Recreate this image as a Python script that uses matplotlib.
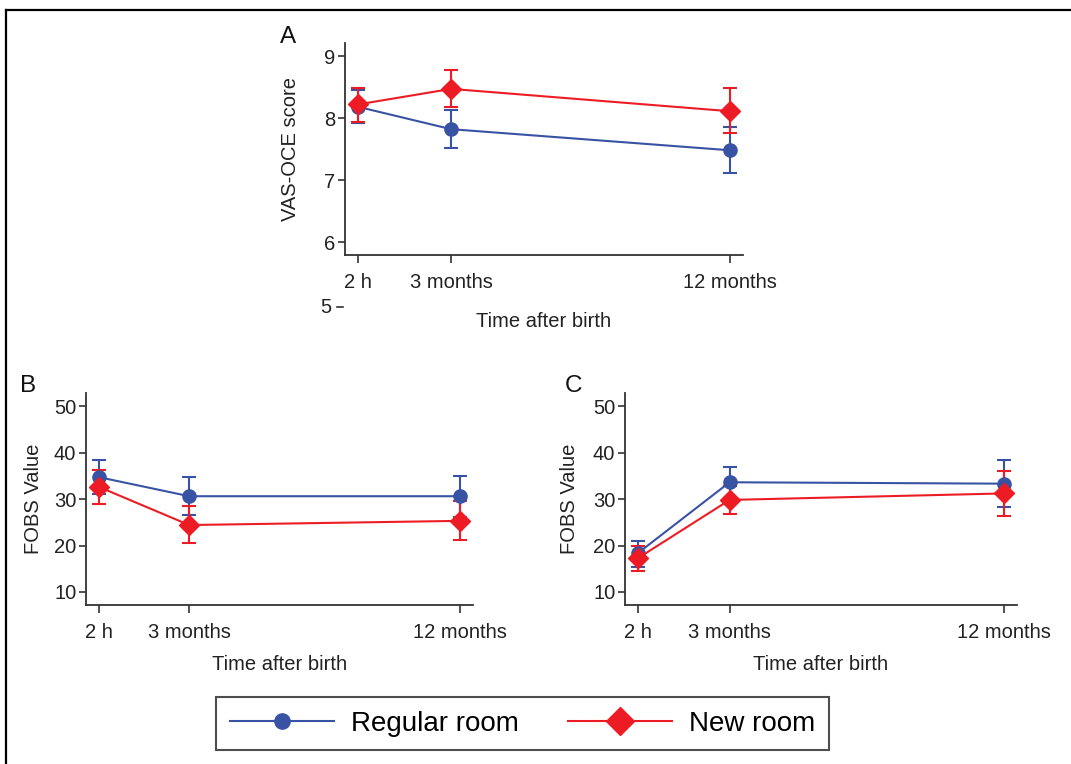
import matplotlib
matplotlib.use('Agg')
import matplotlib.pyplot as plt
from matplotlib.lines import Line2D
import numpy as np

plt.rcParams['font.family'] = ['Liberation Sans', 'DejaVu Sans']

# time points (months after birth)
times = [0, 3, 12]
time_labels = ['2 h', '3 months', '12 months']

# panel A: VAS-OCE score
a_reg = [8.18, 7.82, 7.48]
a_reg_lo = [7.92, 7.52, 7.11]
a_reg_hi = [8.46, 8.13, 7.85]
a_new = [8.22, 8.47, 8.11]
a_new_lo = [7.94, 8.18, 7.76]
a_new_hi = [8.48, 8.77, 8.48]

# panel B: FOBS value
b_reg = [34.7, 30.6, 30.6]
b_reg_lo = [31.1, 26.6, 26.2]
b_reg_hi = [38.4, 34.7, 35.0]
b_new = [32.6, 24.4, 25.3]
b_new_lo = [28.9, 20.5, 21.2]
b_new_hi = [36.2, 28.5, 29.6]

# panel C: FOBS value
c_reg = [18.4, 33.6, 33.3]
c_reg_lo = [15.4, 30.3, 28.3]
c_reg_hi = [21.0, 36.9, 38.4]
c_new = [17.3, 29.8, 31.2]
c_new_lo = [14.5, 26.8, 26.4]
c_new_hi = [19.9, 32.8, 36.0]

blue = '#3953a4'
red = '#ed1c24'
axcol = '#333333'

fig = plt.figure(figsize=(10.71, 7.64), dpi=100)

def panel(rect, reg, reg_lo, reg_hi, new, new_lo, new_hi, ylim, yticks, ylab,
          letter, letter_xy, xpad, ypad):
    ax = fig.add_axes(rect)
    for m, lo, hi, col, mk, ms in [(reg, reg_lo, reg_hi, blue, 'o', 9.5),
                                   (new, new_lo, new_hi, red, 'D', 10)]:
        m = np.array(m)
        err = [m - np.array(lo), np.array(hi) - m]
        ax.errorbar(times, m, yerr=err, color=col, marker=mk, ms=ms, lw=1.5,
                    elinewidth=1.5, capsize=5, capthick=1.5, clip_on=False)
    ax.set_xlim(-0.43, 12.43)
    ax.set_ylim(*ylim)
    ax.set_xticks(times)
    ax.set_xticklabels(time_labels)
    ax.set_yticks(yticks)
    for s in ['top', 'right']:
        ax.spines[s].set_visible(False)
    for s in ['left', 'bottom']:
        ax.spines[s].set_color(axcol)
        ax.spines[s].set_linewidth(1.3)
    ax.tick_params(axis='x', length=6, width=1.2, color=axcol, pad=7, labelsize=14.5, labelcolor='#222222')
    ax.tick_params(axis='y', length=5, width=1.2, color=axcol, pad=2, labelsize=14.5, labelcolor='#222222')
    ax.set_xlabel('Time after birth', fontsize=14.5, labelpad=xpad, color='#222222')
    ax.set_ylabel(ylab, fontsize=14.5, labelpad=ypad, color='#222222')
    fig.text(letter_xy[0] / 1071, 1 - letter_xy[1] / 764, letter, fontsize=17.5,
             ha='center', va='center', color='#111111')
    return ax

axA = panel([0.3221, 0.6662, 0.3716, 0.2775], a_reg, a_reg_lo, a_reg_hi,
            a_new, a_new_lo, a_new_hi, (5.79, 9.21), [6, 7, 8, 9],
            'VAS-OCE score', 'A', (288, 37), 14, 17)
# stray "5" tick below the axis in panel A
tr = matplotlib.transforms.blended_transform_factory(axA.transAxes, axA.transData)
axA.add_line(Line2D([-0.02, -0.005], [4.95, 4.95], transform=tr, color=axcol, lw=1.2, clip_on=False))
axA.text(-0.035, 4.95, '5', transform=tr, ha='right', va='center', fontsize=14.5,
         color='#222222', clip_on=False)

panel([0.0803, 0.2081, 0.3613, 0.2775], b_reg, b_reg_lo, b_reg_hi,
      b_new, b_new_lo, b_new_hi, (7.2, 52.8), [10, 20, 30, 40, 50],
      'FOBS Value', 'B', (28, 386), 9.5, 8)
panel([0.5836, 0.2081, 0.3660, 0.2775], c_reg, c_reg_lo, c_reg_hi,
      c_new, c_new_lo, c_new_hi, (7.2, 52.8), [10, 20, 30, 40, 50],
      'FOBS Value', 'C', (573, 386), 9.5, 10)

handles = [Line2D([], [], color=blue, marker='o', ms=11, lw=1.5),
           Line2D([], [], color=red, marker='D', ms=14, lw=1.5)]
leg = fig.legend(handles, ['Regular room', 'New room'], loc='center',
                 bbox_to_anchor=(0.4879, 0.053), ncol=2, fontsize=20,
                 frameon=True, fancybox=False, handlelength=3.75,
                 handletextpad=0.62, columnspacing=1.75, borderpad=0.5,
                 borderaxespad=0)
leg.get_frame().set_edgecolor('#222222')
leg.get_frame().set_linewidth(1.5)

# figure border (top and left only)
fig.add_artist(Line2D([6 / 1071, 1], [1 - 10 / 764, 1 - 10 / 764], color='black', lw=1.6))
fig.add_artist(Line2D([6 / 1071, 6 / 1071], [0, 1 - 10 / 764], color='black', lw=1.6))

fig.savefig('out.png', dpi=100)
